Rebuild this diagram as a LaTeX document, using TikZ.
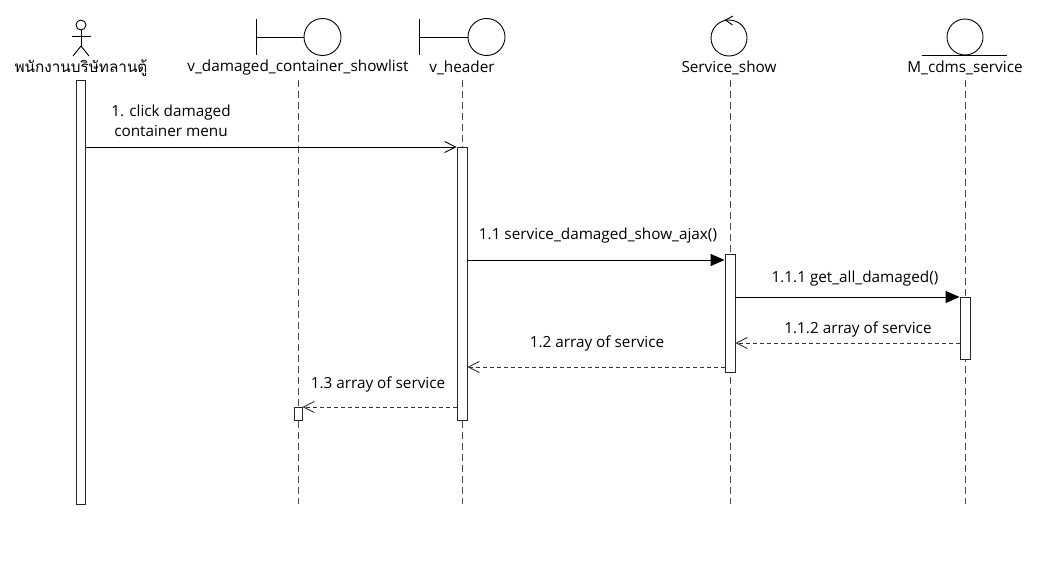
\documentclass[tikz,border=0pt]{standalone}
\usepackage{fontspec}
\setmainfont{Open Sans}
\newfontfamily\thaifont[Script=Thai]{Loma}
\usetikzlibrary{arrows.meta}
\begin{document}
\begin{tikzpicture}[x=1pt,y=-1pt,
  lbl/.style={font=\fontsize{15.3}{20}\selectfont, inner sep=0pt, text=black},
  lifeline/.style={draw=black!70, dash pattern=on 7pt off 4pt, line width=0.9pt},
  actbar/.style={draw=black!85, fill=white, line width=0.9pt, minimum width=9pt, inner sep=0pt, anchor=north},
  shp/.style={draw=black, line width=0.9pt},
  callmsg/.style={draw=black, line width=0.9pt, -{Triangle[length=14pt,width=12pt]}},
  openmsg/.style={draw=black, line width=0.9pt, -{Straight Barb[length=11pt,width=11pt]}},
  retmsg/.style={openmsg, draw=black!80, dash pattern=on 4pt off 3pt},
]
\useasboundingbox (0,0) rectangle (1041,565);

% ---- lifelines
\coordinate (llAtop) at (81,80);   \coordinate (llAbot) at (81,504);
\coordinate (llBtop) at (298,80);  \coordinate (llBbot) at (298,504);
\coordinate (llCtop) at (462,80);  \coordinate (llCbot) at (462,504);
\coordinate (llDtop) at (730,80);  \coordinate (llDbot) at (730,504);
\coordinate (llEtop) at (965,80);  \coordinate (llEbot) at (965,504);
\draw[lifeline] (llBtop) -- (llBbot);
\draw[lifeline] (llCtop) -- (llCbot);
\draw[lifeline] (llDtop) -- (llDbot);
\draw[lifeline] (llEtop) -- (llEbot);

% ---- actor
\draw[shp] (81,25) circle (5);
\draw[shp] (81,30) -- (81,46);
\draw[shp] (72,36) -- (91,36);
\draw[shp] (81,46) -- (73,56) (81,46) -- (89,56);
\node[lbl] (actor) at (81,68) {\thaifont พนักงานบริษัทลานตู้};

% ---- boundary 1
\draw[shp] (256,19) -- (256,55);
\draw[shp] (256,37) -- (304,37);
\draw[shp] (322.5,37) circle (18.5);
\node[lbl] (vdc) at (298,68) {v\_damaged\_container\_showlist};

% ---- boundary 2
\draw[shp] (419,19) -- (419,55);
\draw[shp] (419,37) -- (468,37);
\draw[shp] (486.5,37) circle (18.5);
\node[lbl] (vh) at (462,68) {v\_header};

% ---- control
\draw[shp] (729,38) circle (18);
\draw[shp] (733,16) -- (725.5,20) -- (732.5,25);
\node[lbl] (svc) at (729,68) {Service\_show};

% ---- entity
\draw[shp] (965,37) circle (18);
\draw[shp] (922,55) -- (1007,55);
\node[lbl] (mcd) at (965,68) {M\_cdms\_service};

% ---- activation bars
\node[actbar, minimum height=424pt] (barA) at (81,80) {};
\node[actbar, minimum width=10pt, minimum height=273pt] (barC) at (462,147) {};
\node[actbar, minimum width=10pt, minimum height=118pt] (barD) at (730,254) {};
\node[actbar, minimum width=10pt, minimum height=62pt] (barE) at (965,297) {};
\node[actbar, minimum width=8pt, minimum height=13pt] (barB) at (298,407) {};

% ---- message rows
\coordinate (m1) at (0,147);
\coordinate (m2) at (0,260);
\coordinate (m3) at (0,297);
\coordinate (m4) at (0,343);
\coordinate (m5) at (0,367);
\coordinate (m6) at (0,407);

\draw[openmsg] (barA.east |- m1) -- (barC.west |- m1);
\node[lbl, align=center] (l1) at (171,121) {1. click damaged\\container menu};

\draw[callmsg] (barC.east |- m2) -- (barD.west |- m2);
\node[lbl] (l2) at (598,236) {1.1 service\_damaged\_show\_ajax()};

\draw[callmsg] (barD.east |- m3) -- (barE.west |- m3);
\node[lbl] (l3) at (855,279) {1.1.1 get\_all\_damaged()};

\draw[retmsg] (barE.west |- m4) -- (barD.east |- m4);
\node[lbl] (l4) at (858,329) {1.1.2 array of service};

\draw[retmsg] (barD.west |- m5) -- (barC.east |- m5);
\node[lbl] (l5) at (597,343) {1.2 array of service};

\draw[retmsg] (barC.west |- m6) -- (barB.east |- m6);
\node[lbl] (l6) at (378,384) {1.3 array of service};
\end{tikzpicture}
\end{document}
